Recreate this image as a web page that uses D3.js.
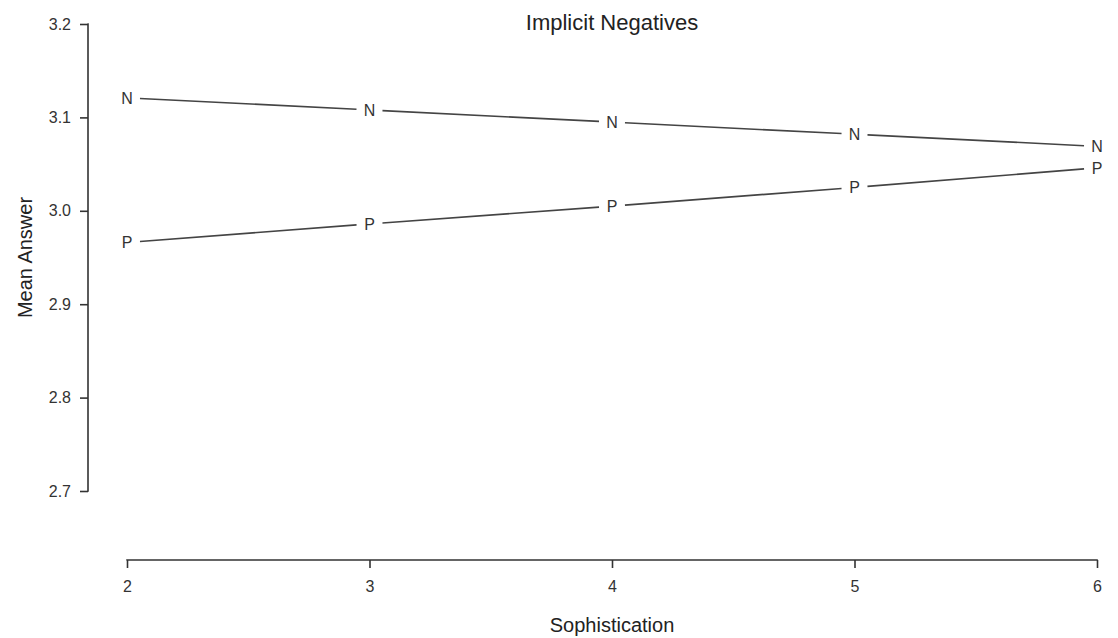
<!DOCTYPE html>
<html>
<head>
<meta charset="utf-8">
<script src="https://cdn.jsdelivr.net/npm/d3@7"></script>
<style>
  body { margin: 0; background: #fff; }
  svg { font-family: "Liberation Sans", Arial, sans-serif; }
</style>
</head>
<body>
<svg id="chart" width="1118" height="638"></svg>
<script>
// values
const sophistication = [2, 3, 4, 5, 6];
const negValues = [3.121, 3.108, 3.095, 3.082, 3.069];
const posValues = [2.966, 2.986, 3.005, 3.025, 3.046];
const yTicks = [2.7, 2.8, 2.9, 3.0, 3.1, 3.2];

const series = [
	{label: "N", values: negValues},
	{label: "P", values: posValues}
];

const svg = d3.select("#chart");
const ink = "#333";

const x = d3.scaleLinear().domain([2, 6]).range([127, 1097]);
const y = d3.scaleLinear().domain([2.7, 3.2]).range([491, 24]);

// y axis (R style: detached from plot, ticks on the left)
const yAxis = d3.axisLeft(y)
	.tickValues(yTicks)
	.tickFormat(d3.format(".1f"))
	.tickSize(8)
	.tickPadding(9);

const yg = svg.append("g")
	.attr("transform", "translate(88,0)")
	.call(yAxis);
yg.select(".domain").attr("d", "M-0.5," + y(3.2) + "H0V" + y(2.7) + "H-0.5");

const xAxis = d3.axisBottom(x)
	.tickValues(sophistication)
	.tickFormat(d3.format("d"))
	.tickSize(8)
	.tickPadding(13);

const xg = svg.append("g")
	.attr("transform", "translate(0,560)")
	.call(xAxis);
xg.select(".domain").attr("d", "M" + x(2) + ",0.5V0H" + x(6) + "V0.5");

[yg, xg].forEach(g => {
	g.attr("font-size", 16);
	g.select(".domain").attr("stroke", ink).attr("stroke-width", 1.6);
	g.selectAll(".tick line").attr("stroke", ink).attr("stroke-width", 1.6);
	g.selectAll(".tick text")
		.attr("fill", ink)
		.style("font-size", "16px")
		.style("font-family", "Liberation Sans, Arial, sans-serif");
});

// lines with gaps around the letters (type = "b")
const gap = 13;
series.forEach(s => {
	const pts = s.values.map((v, i) => [x(sophistication[i]), y(v)]);
	for (let i = 0; i < pts.length - 1; i++) {
		const [x1, y1] = pts[i], [x2, y2] = pts[i + 1];
		const len = Math.hypot(x2 - x1, y2 - y1);
		const ux = (x2 - x1) / len, uy = (y2 - y1) / len;
		svg.append("line")
			.attr("x1", x1 + ux * gap).attr("y1", y1 + uy * gap)
			.attr("x2", x2 - ux * gap).attr("y2", y2 - uy * gap)
			.attr("stroke", "#444")
			.attr("stroke-width", 1.6);
	}
	svg.selectAll(null)
		.data(pts)
		.enter().append("text")
			.attr("x", d => d[0])
			.attr("y", d => d[1])
			.attr("text-anchor", "middle")
			.attr("dy", "0.36em")
			.attr("fill", ink)
			.style("font-size", "16px")
			.text(s.label);
});

// titles
svg.append("text")
	.attr("x", 612).attr("y", 30)
	.attr("text-anchor", "middle")
	.attr("fill", "#222")
	.style("font-size", "22px")
	.text("Implicit Negatives");

svg.append("text")
	.attr("x", 612).attr("y", 632)
	.attr("text-anchor", "middle")
	.attr("fill", "#222")
	.style("font-size", "20px")
	.text("Sophistication");

svg.append("text")
	.attr("transform", "translate(32," + (y(2.95)) + ") rotate(-90)")
	.attr("text-anchor", "middle")
	.attr("fill", "#222")
	.style("font-size", "20px")
	.text("Mean Answer");
</script>
</body>
</html>
